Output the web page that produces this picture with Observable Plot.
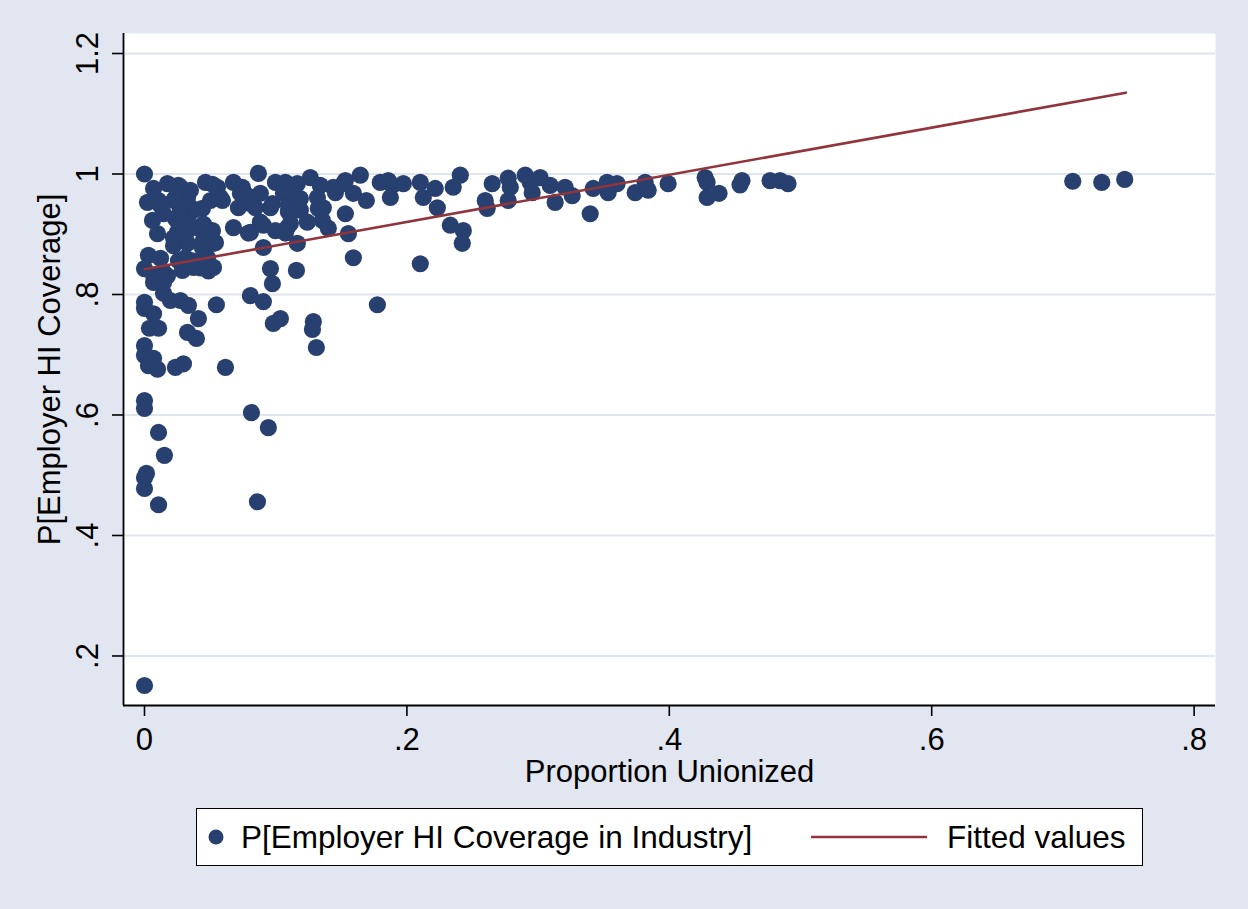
<!DOCTYPE html>
<html>
<head>
<meta charset="utf-8">
<script src="https://cdn.jsdelivr.net/npm/d3@7"></script>
<script src="https://cdn.jsdelivr.net/npm/@observablehq/plot@0.6"></script>
<style>
  html, body { margin: 0; padding: 0; background: #e2e6f0; }
  body { width: 1248px; height: 909px; overflow: hidden; position: relative;
         font-family: "Liberation Sans", Arial, Helvetica, sans-serif; }
  #chart { position: absolute; left: 0; top: 0; }
  #legend { position: absolute; left: 196px; top: 808px; width: 947px; height: 58px;
            background: #fff; border: 1.5px solid #000; box-sizing: border-box; }
  #legend .item { position: absolute; top: 0; height: 100%; display: flex; align-items: center;
                  font-size: 31.5px; color: #000; white-space: nowrap; }
</style>
</head>
<body>
<div id="chart"></div>
<div id="legend"></div>
<script>
// Industry-level data: share of workers unionized vs. probability of employer health insurance
const unionShare = [
  0, 0.0069, 0.0175, 0.0274, 0.0465, 0.0556, 0.0678, 0.0868, 0.0998, 0.0023,
  0.0122, 0.0221, 0.0328, 0.0061, 0.0145, 0.0236, 0.0335, 0.0442, 0.0503, 0.0579,
  0.0731, 0.0807, 0.0883, 0.096, 0.1059, 0.0099, 0.0251, 0.0328, 0.0404, 0.0487,
  0.0678, 0.0807, 0.0883, 0.0998, 0.1089, 0.0221, 0.0328, 0.0449, 0.0541, 0.0906,
  0.003, 0.0122, 0.0259, 0.0366, 0.048, 0, 0.0069, 0.0145, 0.0289, 0.0373,
  0.0526, 0.096, 0.0975,
  0.035, 0.0259, 0.045, 0.0221, 0.0442, 0.0312, 0.0442, 0.0297, 0.0427, 0.0487,
  0.0175, 0.0388, 0.0274, 0.0107, 0.0236, 0.0328, 0.0259,
  0.0518, 0.0746, 0.0784, 0.0594, 0.0716, 0.0845, 0.0975, 0.1097, 0.0792, 0.0906,
  0.1074, 0.0518, 0.0526,
  0.1455, 0.1325, 0.1356, 0.1127, 0.1188, 0.1516, 0.1889,
  0, 0, 0.0069, 0.0038, 0.0107, 0, 0, 0.0069, 0.003, 0.0099,
  0.0236, 0.0297, 0.0617, 0.0145, 0.0198, 0.0274, 0.0335, 0.0411, 0.0328, 0.0396,
  0.0548, 0.0807, 0.0906, 0.0982, 0.1036, 0.0069, 0.0145,
  0, 0, 0.0815, 0.0944, 0.0107, 0.0152, 0.0015, 0, 0, 0.0107,
  0.0861, 0,
  0.1074, 0.1165, 0.1264, 0.134, 0.1439, 0.1531, 0.1645, 0.1797, 0.1858, 0.1973,
  0.2102, 0.2216, 0.2353, 0.2407, 0.1097, 0.1188, 0.1318, 0.1363, 0.1112, 0.1241,
  0.1401, 0.1531, 0.1554, 0.1592, 0.1691, 0.1874, 0.2125, 0.2232, 0.2331, 0.243,
  0.2422, 0.1165, 0.1592, 0.2102, 0.1775, 0.1287, 0.128, 0.131, 0.1158,
  0.2597, 0.2612, 0.265, 0.2772, 0.2788, 0.2772, 0.2902, 0.294, 0.2955, 0.3016,
  0.3092, 0.313, 0.3206, 0.326, 0.3397, 0.342, 0.3526, 0.3534, 0.3602, 0.374,
  0.3816, 0.3839, 0.3991, 0.4273, 0.4288, 0.4288, 0.4379, 0.4554, 0.4539, 0.4768,
  0.4844, 0.4905, 0.7075, 0.7296, 0.7471
];
const hiCoverage = [
  1.0, 0.976, 0.984, 0.978, 0.986, 0.978, 0.986, 1.001, 0.986, 0.953,
  0.948, 0.956, 0.961, 0.923, 0.934, 0.926, 0.931, 0.943, 0.956, 0.961,
  0.968, 0.951, 0.968, 0.944, 0.968, 0.901, 0.903, 0.906, 0.911, 0.903,
  0.911, 0.903, 0.92, 0.906, 0.911, 0.881, 0.885, 0.89, 0.886, 0.878,
  0.865, 0.86, 0.856, 0.856, 0.861, 0.843, 0.832, 0.837, 0.84, 0.845,
  0.845, 0.843, 0.818,
  0.973, 0.92, 0.917, 0.894, 0.877, 0.861, 0.856, 0.844, 0.844, 0.839,
  0.831, 0.941, 0.941, 0.956, 0.961, 0.951, 0.981,
  0.983, 0.978, 0.964, 0.956, 0.944, 0.944, 0.951, 0.937, 0.902, 0.915,
  0.902, 0.906, 0.885,
  0.969, 0.943, 0.923, 0.961, 0.94, 0.984, 0.981,
  0.787, 0.777, 0.768, 0.744, 0.744, 0.715, 0.699, 0.694, 0.682, 0.676,
  0.679, 0.685, 0.679, 0.802, 0.79, 0.79, 0.782, 0.76, 0.737, 0.727,
  0.783, 0.798, 0.788, 0.752, 0.76, 0.82, 0.82,
  0.624, 0.611, 0.604, 0.579, 0.571, 0.533, 0.503, 0.496, 0.478, 0.451,
  0.456, 0.151,
  0.986, 0.984, 0.994, 0.981, 0.978, 0.989, 0.998, 0.986, 0.989, 0.984,
  0.986, 0.976, 0.978, 0.998, 0.948, 0.959, 0.961, 0.944, 0.918, 0.92,
  0.91, 0.934, 0.901, 0.968, 0.956, 0.961, 0.961, 0.944, 0.915, 0.906,
  0.885, 0.885, 0.861, 0.851, 0.783, 0.755, 0.742, 0.712, 0.84,
  0.956, 0.943, 0.984, 0.993, 0.978, 0.956, 0.998, 0.986, 0.969, 0.994,
  0.981, 0.953, 0.978, 0.964, 0.934, 0.976, 0.986, 0.969, 0.984, 0.969,
  0.986, 0.973, 0.984, 0.994, 0.986, 0.961, 0.968, 0.989, 0.982, 0.989,
  0.989, 0.984, 0.988, 0.986, 0.991
];

// Linear fit endpoints (over the observed range of unionization)
const fitX = [0, 0.748];
const fitY = [0.842, 1.135];

const xTicks = [0, 0.2, 0.4, 0.6, 0.8];
const xTickLabels = ["0", ".2", ".4", ".6", ".8"];
const yTicks = [0.2, 0.4, 0.6, 0.8, 1, 1.2];
const yTickLabels = [".2", ".4", ".6", ".8", "1", "1.2"];

const seriesNames = ["P[Employer HI Coverage in Industry]", "Fitted values"];
const xTitle = "Proportion Unionized";
const yTitle = "P[Employer HI Coverage]";

const navy = "#27406f";
const maroon = "#90353b";

const points = unionShare.map((u, i) => ({u, p: hiCoverage[i]}));
const fit = fitX.map((u, i) => ({u, p: fitY[i]}));

const xDomain = [-0.016, 0.8163];
const yDomain = [0.1178, 1.2332];

const chart = Plot.plot({
  width: 1248,
  height: 800,
  marginLeft: 123,
  marginRight: 33,
  marginTop: 33,
  marginBottom: 95,
  style: {
    background: "transparent",
    fontFamily: "'Liberation Sans', Arial, Helvetica, sans-serif",
    fontSize: "31px",
    color: "#000"
  },
  x: {domain: xDomain},
  y: {domain: yDomain},
  marks: [
    Plot.frame({fill: "#fff", stroke: "none"}),
    Plot.gridY(yTicks, {stroke: "#dfe4ee", strokeWidth: 2.2, strokeOpacity: 1}),
    Plot.dot(points, {x: "u", y: "p", r: 8.6, fill: navy, stroke: "none"}),
    Plot.line(fit, {x: "u", y: "p", stroke: maroon, strokeWidth: 2.6}),
    Plot.ruleX([xDomain[0]], {stroke: "#000", strokeWidth: 1.8}),
    Plot.ruleY([yDomain[0]], {stroke: "#000", strokeWidth: 1.8}),
    Plot.axisX(xTicks, {
      tickFormat: d => xTickLabels[xTicks.indexOf(d)],
      tickSize: 11, tickPadding: 11, strokeWidth: 1.6, label: null
    }),
    Plot.axisY(yTicks, {
      tickFormat: d => yTickLabels[yTicks.indexOf(d)],
      tickRotate: -90, tickSize: 11, tickPadding: 15, strokeWidth: 1.6, label: null
    }),
    Plot.text([xTitle], {frameAnchor: "bottom", lineAnchor: "middle", textAnchor: "middle", dy: 67, text: d => d}),
    Plot.text([yTitle], {frameAnchor: "left", lineAnchor: "middle", textAnchor: "middle", rotate: -90, dx: -73, text: d => d})
  ]
});
document.getElementById("chart").append(chart);

// Legend below the plot: marker swatch, line swatch and series names
const legend = d3.select("#legend");
const swatches = [
  {name: seriesNames[0], kind: "dot", left: 9, textLeft: 44},
  {name: seriesNames[1], kind: "line", left: 614, textLeft: 750}
];
swatches.forEach(s => {
  const sw = legend.append("div").attr("class", "item").style("left", s.left + "px");
  const svg = sw.append("svg").attr("width", s.kind === "dot" ? 20 : 116).attr("height", 20);
  if (s.kind === "dot") {
    svg.append("circle").attr("cx", 10).attr("cy", 10).attr("r", 7.5).attr("fill", navy);
  } else {
    svg.append("line").attr("x1", 0).attr("x2", 116).attr("y1", 10).attr("y2", 10)
      .attr("stroke", maroon).attr("stroke-width", 2.6);
  }
  legend.append("div").attr("class", "item").style("left", s.textLeft + "px").text(s.name);
});
</script>
</body>
</html>
